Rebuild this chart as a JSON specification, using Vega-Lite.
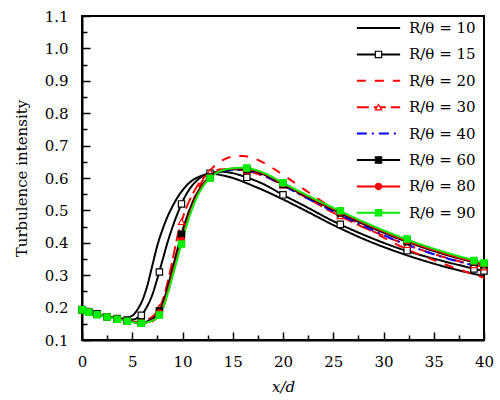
{
"$schema": "https://vega.github.io/schema/vega-lite/v6.json",
"width": 402, "height": 324,
"autosize": "none",
"padding": {"left": 82, "top": 16, "right": 16, "bottom": 60},
"background": "white",
"config": {
  "font": "DejaVu Serif",
  "view": {"stroke": "black", "strokeWidth": 2},
  "axis": {"grid": false, "labelFont": "DejaVu Serif", "labelFontSize": 15, "labelColor": "black", "titleFont": "DejaVu Serif", "titleFontSize": 15, "titleFontWeight": "normal", "titleColor": "black", "tickColor": "black", "domainColor": "black", "labelFlush": false, "labelOverlap": false},
  "legend": {"labelFont": "DejaVu Serif"}
},
"datasets": {
"curves": [
{"s":"10","x":0,"y":0.195},{"s":"10","x":1,"y":0.185},{"s":"10","x":2,"y":0.177},{"s":"10","x":3,"y":0.17},{"s":"10","x":4,"y":0.166},{"s":"10","x":5,"y":0.175},{"s":"10","x":5.5,"y":0.193},{"s":"10","x":6,"y":0.222},{"s":"10","x":6.5,"y":0.268},{"s":"10","x":7,"y":0.33},{"s":"10","x":7.5,"y":0.392},{"s":"10","x":8,"y":0.44},{"s":"10","x":8.5,"y":0.48},{"s":"10","x":9,"y":0.512},{"s":"10","x":9.5,"y":0.54},{"s":"10","x":10,"y":0.562},{"s":"10","x":10.5,"y":0.58},{"s":"10","x":11,"y":0.593},{"s":"10","x":11.5,"y":0.602},{"s":"10","x":12,"y":0.608},{"s":"10","x":13,"y":0.613},{"s":"10","x":14,"y":0.608},{"s":"10","x":15,"y":0.6},{"s":"10","x":16,"y":0.589},{"s":"10","x":17,"y":0.576},{"s":"10","x":18,"y":0.563},{"s":"10","x":20,"y":0.534},{"s":"10","x":22,"y":0.503},{"s":"10","x":25,"y":0.455},{"s":"10","x":28,"y":0.412},{"s":"10","x":32,"y":0.365},{"s":"10","x":36,"y":0.327},{"s":"10","x":40,"y":0.297},
{"s":"15","x":0,"y":0.194},{"s":"15","x":1,"y":0.184},{"s":"15","x":2,"y":0.176},{"s":"15","x":3,"y":0.169},{"s":"15","x":4,"y":0.163},{"s":"15","x":5,"y":0.163},{"s":"15","x":5.5,"y":0.168},{"s":"15","x":6,"y":0.18},{"s":"15","x":6.5,"y":0.205},{"s":"15","x":7,"y":0.24},{"s":"15","x":7.5,"y":0.29},{"s":"15","x":8,"y":0.345},{"s":"15","x":8.5,"y":0.4},{"s":"15","x":9,"y":0.448},{"s":"15","x":9.5,"y":0.49},{"s":"15","x":10,"y":0.527},{"s":"15","x":10.5,"y":0.556},{"s":"15","x":11,"y":0.578},{"s":"15","x":11.5,"y":0.594},{"s":"15","x":12,"y":0.606},{"s":"15","x":13,"y":0.617},{"s":"15","x":14,"y":0.619},{"s":"15","x":15,"y":0.615},{"s":"15","x":16,"y":0.606},{"s":"15","x":17,"y":0.595},{"s":"15","x":18,"y":0.582},{"s":"15","x":20,"y":0.548},{"s":"15","x":22,"y":0.516},{"s":"15","x":25,"y":0.467},{"s":"15","x":28,"y":0.425},{"s":"15","x":32,"y":0.378},{"s":"15","x":36,"y":0.343},{"s":"15","x":40,"y":0.313},
{"s":"20","x":0,"y":0.198},{"s":"20","x":1,"y":0.186},{"s":"20","x":2,"y":0.177},{"s":"20","x":3,"y":0.169},{"s":"20","x":4,"y":0.162},{"s":"20","x":5,"y":0.157},{"s":"20","x":5.5,"y":0.154},{"s":"20","x":6,"y":0.151},{"s":"20","x":6.5,"y":0.152},{"s":"20","x":7,"y":0.158},{"s":"20","x":7.5,"y":0.17},{"s":"20","x":8,"y":0.195},{"s":"20","x":8.5,"y":0.24},{"s":"20","x":9,"y":0.3},{"s":"20","x":9.5,"y":0.365},{"s":"20","x":10,"y":0.425},{"s":"20","x":10.5,"y":0.48},{"s":"20","x":11,"y":0.525},{"s":"20","x":11.5,"y":0.562},{"s":"20","x":12,"y":0.592},{"s":"20","x":13,"y":0.632},{"s":"20","x":14,"y":0.655},{"s":"20","x":15,"y":0.666},{"s":"20","x":16,"y":0.668},{"s":"20","x":17,"y":0.662},{"s":"20","x":18,"y":0.648},{"s":"20","x":20,"y":0.61},{"s":"20","x":22,"y":0.567},{"s":"20","x":25,"y":0.505},{"s":"20","x":28,"y":0.45},{"s":"20","x":32,"y":0.385},{"s":"20","x":36,"y":0.335},{"s":"20","x":40,"y":0.292},
{"s":"30","x":0,"y":0.193},{"s":"30","x":1,"y":0.184},{"s":"30","x":2,"y":0.176},{"s":"30","x":3,"y":0.169},{"s":"30","x":4,"y":0.162},{"s":"30","x":5,"y":0.157},{"s":"30","x":5.5,"y":0.156},{"s":"30","x":6,"y":0.158},{"s":"30","x":6.5,"y":0.163},{"s":"30","x":7,"y":0.172},{"s":"30","x":7.5,"y":0.188},{"s":"30","x":8,"y":0.22},{"s":"30","x":8.5,"y":0.275},{"s":"30","x":9,"y":0.345},{"s":"30","x":9.5,"y":0.42},{"s":"30","x":10,"y":0.475},{"s":"30","x":10.5,"y":0.517},{"s":"30","x":11,"y":0.55},{"s":"30","x":11.5,"y":0.577},{"s":"30","x":12,"y":0.597},{"s":"30","x":13,"y":0.62},{"s":"30","x":14,"y":0.627},{"s":"30","x":15,"y":0.628},{"s":"30","x":16,"y":0.624},{"s":"30","x":17,"y":0.617},{"s":"30","x":18,"y":0.607},{"s":"30","x":20,"y":0.578},{"s":"30","x":22,"y":0.545},{"s":"30","x":25,"y":0.493},{"s":"30","x":28,"y":0.448},{"s":"30","x":32,"y":0.398},{"s":"30","x":36,"y":0.356},{"s":"30","x":40,"y":0.325},
{"s":"40","x":0,"y":0.193},{"s":"40","x":1,"y":0.184},{"s":"40","x":2,"y":0.176},{"s":"40","x":3,"y":0.169},{"s":"40","x":4,"y":0.162},{"s":"40","x":5,"y":0.156},{"s":"40","x":5.5,"y":0.154},{"s":"40","x":6,"y":0.153},{"s":"40","x":6.5,"y":0.157},{"s":"40","x":7,"y":0.165},{"s":"40","x":7.5,"y":0.178},{"s":"40","x":8,"y":0.208},{"s":"40","x":8.5,"y":0.255},{"s":"40","x":9,"y":0.312},{"s":"40","x":9.5,"y":0.37},{"s":"40","x":10,"y":0.426},{"s":"40","x":10.5,"y":0.475},{"s":"40","x":11,"y":0.516},{"s":"40","x":11.5,"y":0.55},{"s":"40","x":12,"y":0.575},{"s":"40","x":13,"y":0.607},{"s":"40","x":14,"y":0.62},{"s":"40","x":15,"y":0.625},{"s":"40","x":16,"y":0.625},{"s":"40","x":17,"y":0.619},{"s":"40","x":18,"y":0.609},{"s":"40","x":20,"y":0.577},{"s":"40","x":22,"y":0.544},{"s":"40","x":25,"y":0.497},{"s":"40","x":28,"y":0.452},{"s":"40","x":32,"y":0.398},{"s":"40","x":36,"y":0.355},{"s":"40","x":40,"y":0.322},
{"s":"60","x":0,"y":0.193},{"s":"60","x":1,"y":0.184},{"s":"60","x":2,"y":0.176},{"s":"60","x":3,"y":0.169},{"s":"60","x":4,"y":0.162},{"s":"60","x":5,"y":0.156},{"s":"60","x":5.5,"y":0.154},{"s":"60","x":6,"y":0.153},{"s":"60","x":6.5,"y":0.157},{"s":"60","x":7,"y":0.165},{"s":"60","x":7.5,"y":0.178},{"s":"60","x":8,"y":0.21},{"s":"60","x":8.5,"y":0.26},{"s":"60","x":9,"y":0.32},{"s":"60","x":9.5,"y":0.38},{"s":"60","x":10,"y":0.437},{"s":"60","x":10.5,"y":0.485},{"s":"60","x":11,"y":0.524},{"s":"60","x":11.5,"y":0.556},{"s":"60","x":12,"y":0.58},{"s":"60","x":13,"y":0.61},{"s":"60","x":14,"y":0.622},{"s":"60","x":15,"y":0.627},{"s":"60","x":16,"y":0.627},{"s":"60","x":17,"y":0.622},{"s":"60","x":18,"y":0.612},{"s":"60","x":20,"y":0.58},{"s":"60","x":22,"y":0.548},{"s":"60","x":25,"y":0.502},{"s":"60","x":28,"y":0.458},{"s":"60","x":32,"y":0.407},{"s":"60","x":36,"y":0.365},{"s":"60","x":40,"y":0.332},
{"s":"80","x":0,"y":0.193},{"s":"80","x":1,"y":0.184},{"s":"80","x":2,"y":0.176},{"s":"80","x":3,"y":0.169},{"s":"80","x":4,"y":0.162},{"s":"80","x":5,"y":0.156},{"s":"80","x":5.5,"y":0.154},{"s":"80","x":6,"y":0.152},{"s":"80","x":6.5,"y":0.155},{"s":"80","x":7,"y":0.161},{"s":"80","x":7.5,"y":0.172},{"s":"80","x":8,"y":0.2},{"s":"80","x":8.5,"y":0.247},{"s":"80","x":9,"y":0.303},{"s":"80","x":9.5,"y":0.36},{"s":"80","x":10,"y":0.418},{"s":"80","x":10.5,"y":0.47},{"s":"80","x":11,"y":0.513},{"s":"80","x":11.5,"y":0.549},{"s":"80","x":12,"y":0.576},{"s":"80","x":13,"y":0.609},{"s":"80","x":14,"y":0.624},{"s":"80","x":15,"y":0.629},{"s":"80","x":16,"y":0.63},{"s":"80","x":17,"y":0.625},{"s":"80","x":18,"y":0.615},{"s":"80","x":20,"y":0.583},{"s":"80","x":22,"y":0.551},{"s":"80","x":25,"y":0.505},{"s":"80","x":28,"y":0.462},{"s":"80","x":32,"y":0.41},{"s":"80","x":36,"y":0.368},{"s":"80","x":40,"y":0.334},
{"s":"90","x":0,"y":0.193},{"s":"90","x":1,"y":0.183},{"s":"90","x":2,"y":0.175},{"s":"90","x":3,"y":0.168},{"s":"90","x":4,"y":0.161},{"s":"90","x":5,"y":0.155},{"s":"90","x":5.5,"y":0.153},{"s":"90","x":6,"y":0.152},{"s":"90","x":6.5,"y":0.155},{"s":"90","x":7,"y":0.16},{"s":"90","x":7.5,"y":0.17},{"s":"90","x":8,"y":0.195},{"s":"90","x":8.5,"y":0.24},{"s":"90","x":9,"y":0.295},{"s":"90","x":9.5,"y":0.352},{"s":"90","x":10,"y":0.41},{"s":"90","x":10.5,"y":0.463},{"s":"90","x":11,"y":0.508},{"s":"90","x":11.5,"y":0.545},{"s":"90","x":12,"y":0.572},{"s":"90","x":13,"y":0.607},{"s":"90","x":14,"y":0.624},{"s":"90","x":15,"y":0.63},{"s":"90","x":16,"y":0.632},{"s":"90","x":17,"y":0.627},{"s":"90","x":18,"y":0.617},{"s":"90","x":20,"y":0.585},{"s":"90","x":22,"y":0.553},{"s":"90","x":25,"y":0.508},{"s":"90","x":28,"y":0.465},{"s":"90","x":32,"y":0.414},{"s":"90","x":36,"y":0.372},{"s":"90","x":40,"y":0.338}
],
"markers": [
{"s":"15","x":0,"y":0.194},{"s":"15","x":0.67,"y":0.187},{"s":"15","x":1.5,"y":0.18},{"s":"15","x":2.5,"y":0.172},{"s":"15","x":3.5,"y":0.166},{"s":"15","x":4.5,"y":0.162},{"s":"15","x":5.9,"y":0.176},{"s":"15","x":7.7,"y":0.31},{"s":"15","x":9.9,"y":0.52},{"s":"15","x":12.74,"y":0.615},{"s":"15","x":16.4,"y":0.602},{"s":"15","x":20,"y":0.548},{"s":"15","x":25.7,"y":0.457},{"s":"15","x":32.35,"y":0.376},{"s":"15","x":39,"y":0.319},{"s":"15","x":40,"y":0.313},
{"s":"30","x":0,"y":0.193},{"s":"30","x":0.67,"y":0.187},{"s":"30","x":1.5,"y":0.18},{"s":"30","x":2.5,"y":0.172},{"s":"30","x":3.5,"y":0.165},{"s":"30","x":4.5,"y":0.159},{"s":"30","x":5.9,"y":0.157},{"s":"30","x":7.7,"y":0.2},{"s":"30","x":9.9,"y":0.465},{"s":"30","x":12.74,"y":0.618},{"s":"30","x":16.4,"y":0.622},{"s":"30","x":20,"y":0.578},{"s":"30","x":25.7,"y":0.483},{"s":"30","x":32.35,"y":0.394},{"s":"30","x":39,"y":0.332},{"s":"30","x":40,"y":0.325},
{"s":"60","x":0,"y":0.193},{"s":"60","x":0.67,"y":0.187},{"s":"60","x":1.5,"y":0.18},{"s":"60","x":2.5,"y":0.172},{"s":"60","x":3.5,"y":0.165},{"s":"60","x":4.5,"y":0.159},{"s":"60","x":5.9,"y":0.153},{"s":"60","x":7.7,"y":0.19},{"s":"60","x":9.9,"y":0.426},{"s":"60","x":12.74,"y":0.603},{"s":"60","x":16.4,"y":0.626},{"s":"60","x":20,"y":0.58},{"s":"60","x":25.7,"y":0.492},{"s":"60","x":32.35,"y":0.403},{"s":"60","x":39,"y":0.34},{"s":"60","x":40,"y":0.332},
{"s":"80","x":0,"y":0.193},{"s":"80","x":0.67,"y":0.187},{"s":"80","x":1.5,"y":0.179},{"s":"80","x":2.5,"y":0.172},{"s":"80","x":3.5,"y":0.165},{"s":"80","x":4.5,"y":0.158},{"s":"80","x":5.9,"y":0.152},{"s":"80","x":7.7,"y":0.183},{"s":"80","x":9.9,"y":0.407},{"s":"80","x":12.74,"y":0.601},{"s":"80","x":16.4,"y":0.629},{"s":"80","x":20,"y":0.583},{"s":"80","x":25.7,"y":0.495},{"s":"80","x":32.35,"y":0.406},{"s":"80","x":39,"y":0.342},{"s":"80","x":40,"y":0.334},
{"s":"90","x":0,"y":0.193},{"s":"90","x":0.67,"y":0.186},{"s":"90","x":1.5,"y":0.178},{"s":"90","x":2.5,"y":0.171},{"s":"90","x":3.5,"y":0.164},{"s":"90","x":4.5,"y":0.158},{"s":"90","x":5.9,"y":0.152},{"s":"90","x":7.7,"y":0.177},{"s":"90","x":9.9,"y":0.396},{"s":"90","x":12.74,"y":0.599},{"s":"90","x":16.4,"y":0.631},{"s":"90","x":20,"y":0.585},{"s":"90","x":25.7,"y":0.499},{"s":"90","x":32.35,"y":0.412},{"s":"90","x":39,"y":0.345},{"s":"90","x":40,"y":0.338}
]
},
"layer": [
{
  "data": {"name": "curves"},
  "mark": {"type": "line", "interpolate": "monotone", "strokeWidth": 2},
  "encoding": {
    "x": {"field": "x", "type": "quantitative", "scale": {"domain": [0, 40], "nice": false},
          "axis": {"orient": "bottom", "values": [0,5,10,15,20,25,30,35,40], "tickSize": -8, "tickWidth": 1.5, "domainWidth": 2, "labelPadding": 22, "title": "x/d", "titleFontStyle": "italic", "titlePadding": 10}},
    "y": {"field": "y", "type": "quantitative", "scale": {"domain": [0.1, 1.1], "nice": false, "zero": false},
          "axis": {"orient": "left", "values": [0.1,0.2,0.3,0.4,0.5,0.6,0.7,0.8,0.9,1.0,1.1], "format": ".1f", "tickSize": -8, "tickWidth": 1.5, "domainWidth": 2, "labelPadding": 22, "title": "Turbulence intensity", "titlePadding": 15}},
    "color": {"field": "s", "type": "nominal",
              "scale": {"range": ["black","black","#ff0000","#ff0000","#0000ff","black","#ff0000","#00ee00"]},
              "legend": {"orient": "none", "legendX": 289, "legendY": 4.5, "title": null, "padding": 0, "symbolType": "M-5,0H5", "symbolSize": 75, "symbolStrokeWidth": 2, "labelFontSize": 15, "labelColor": "black", "labelOffset": 23, "rowPadding": 10.4, "labelExpr": "'R/θ = ' + datum.label"}},
    "strokeDash": {"field": "s", "type": "nominal",
              "scale": {"range": [[1,0],[1,0],[9,9],[12,5],[10,5,2,5],[1,0],[1,0],[1,0]]},
              "legend": {"orient": "none", "legendX": 289, "legendY": 4.5, "title": null, "padding": 0, "symbolType": "M-5,0H5", "symbolSize": 75, "symbolStrokeWidth": 2, "labelFontSize": 15, "labelColor": "black", "labelOffset": 23, "rowPadding": 10.4, "labelExpr": "'R/θ = ' + datum.label"}}
  }
},
{
  "data": {"name": "markers"},
  "mark": {"type": "point", "size": 40, "strokeWidth": 1.2, "opacity": 1},
  "encoding": {
    "x": {"field": "x", "type": "quantitative", "scale": {"domain": [0, 40], "nice": false},
          "axis": {"orient": "bottom", "values": [2.5,7.5,12.5,17.5,22.5,27.5,32.5,37.5], "tickSize": -5, "tickWidth": 1.5, "labels": false, "domain": false, "title": null}},
    "y": {"field": "y", "type": "quantitative", "scale": {"domain": [0.1, 1.1], "nice": false, "zero": false},
          "axis": {"orient": "left", "values": [0.15,0.25,0.35,0.45,0.55,0.65,0.75,0.85,0.95,1.05], "tickSize": -5, "tickWidth": 1.5, "labels": false, "domain": false, "title": null}},
    "shape": {"field": "s", "type": "nominal",
              "scale": {"domain": ["10","15","20","30","40","60","80","90"], "range": ["square","square","square","triangle-up","square","square","circle","square"]},
              "legend": {"orient": "none", "legendX": 289, "legendY": 4.5, "title": null, "padding": 0, "symbolSize": 40, "symbolStrokeWidth": 1.2, "labelFontSize": 15, "labelOpacity": 0, "labelOffset": 23, "rowPadding": 10.4, "labelExpr": "'R/θ = ' + datum.label"}},
    "fill": {"field": "s", "type": "nominal",
              "scale": {"domain": ["10","15","20","30","40","60","80","90"], "range": ["transparent","white","transparent","white","transparent","black","#ff0000","#00ee00"]},
              "legend": {"orient": "none", "legendX": 289, "legendY": 4.5, "title": null, "padding": 0, "symbolSize": 40, "symbolStrokeWidth": 1.2, "labelFontSize": 15, "labelOpacity": 0, "labelOffset": 23, "rowPadding": 10.4, "labelExpr": "'R/θ = ' + datum.label"}},
    "stroke": {"field": "s", "type": "nominal",
              "scale": {"domain": ["10","15","20","30","40","60","80","90"], "range": ["transparent","black","transparent","#ff0000","transparent","black","#ff0000","#00ee00"]},
              "legend": {"orient": "none", "legendX": 289, "legendY": 4.5, "title": null, "padding": 0, "symbolSize": 40, "symbolStrokeWidth": 1.2, "labelFontSize": 15, "labelOpacity": 0, "labelOffset": 23, "rowPadding": 10.4, "labelExpr": "'R/θ = ' + datum.label"}}
  }
}
],
"resolve": {"axis": {"x": "independent", "y": "independent"}}
}
